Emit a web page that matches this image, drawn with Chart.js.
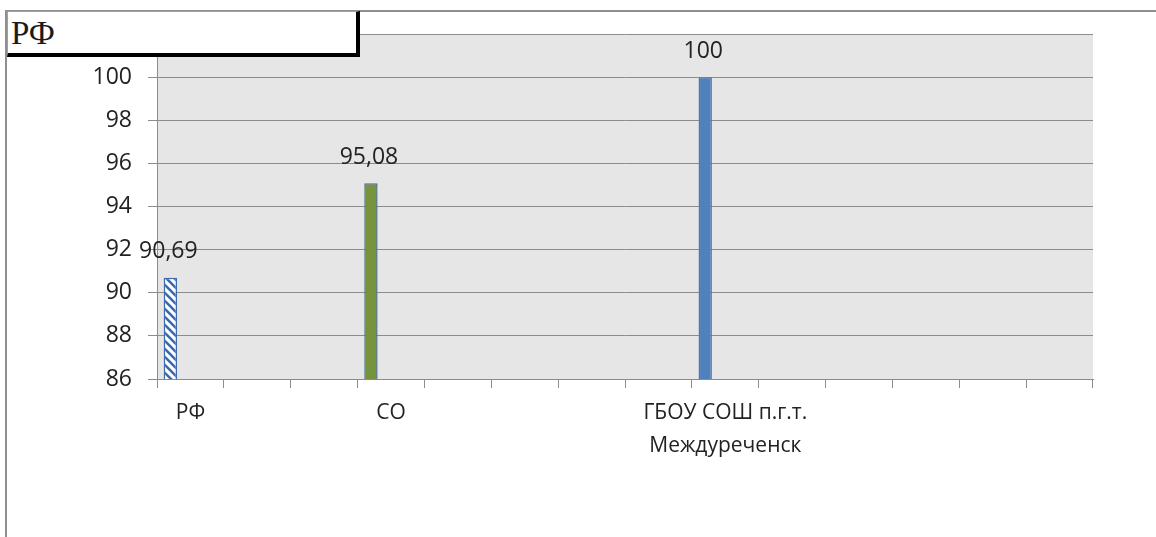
<!DOCTYPE html>
<html lang="ru">
<head>
    <meta charset="UTF-8">
    <title>РФ</title>
    <style>
        body {
            margin: 0;
            padding: 0;
            background: #fff;
            font-family: "Open Sans", sans-serif;
        }
        #wrap {
            position: relative;
            width: 1156px;
            height: 537px;
            overflow: hidden;
        }
        #frame {
            position: absolute;
            left: 5px;
            top: 10px;
            width: 1200px;
            height: 600px;
            border-top: 2px solid #8f8f8f;
            border-left: 2px solid #8f8f8f;
        }
        #titleBox {
            position: absolute;
            left: 7px;
            top: 11px;
            width: 345px;
            height: 41px;
            background: #fff;
            border-top: 1px solid #a0a0a0;
            border-left: 1px solid #a0a0a0;
            border-right: 4px solid #000;
            border-bottom: 4px solid #000;
            font-family: "Liberation Serif", serif;
            font-size: 33px;
            line-height: 42px;
            color: #1a1a1a;
            padding-left: 3px;
            box-sizing: content-box;
            z-index: 2;
        }
        canvas {
            position: absolute;
            left: 0;
            top: 0;
        }
    </style>
</head>
<body>
<div id="wrap">
    <div id="frame"></div>
    <canvas id="chart" width="1156" height="537"></canvas>
    <div id="titleBox">РФ</div>
</div>

<script src="https://cdn.jsdelivr.net/npm/chart.js"></script>
<script>
    // categories (only some of them are named in the original)
    const categories = ['РФ', '', '', 'СО', '', '', '', '', ['ГБОУ СОШ п.г.т.', 'Междуреченск'], '', '', '', '', ''];
    const values = [90.69, null, null, 95.08, null, null, null, null, 100, null, null, null, null, null];
    const emptySeries = [null, null, null, null, null, null, null, null, null, null, null, null, null, null];
    const yTicks = [86, 88, 90, 92, 94, 96, 98, 100];

    // striped fill for the first bar
    function makeHatch() {
        const c = document.createElement('canvas');
        c.width = 8;
        c.height = 8;
        const g = c.getContext('2d');
        g.fillStyle = '#fff';
        g.fillRect(0, 0, 8, 8);
        g.strokeStyle = '#3b6aae';
        g.lineWidth = 2.6;
        g.beginPath();
        g.moveTo(-2, -2); g.lineTo(10, 10);
        g.moveTo(-6, 2); g.lineTo(6, 14);
        g.moveTo(2, -6); g.lineTo(14, 6);
        g.stroke();
        return g.createPattern(c, 'repeat');
    }

    const ctx = document.getElementById('chart').getContext('2d');
    const hatch = makeHatch();
    const barColors = [hatch, null, null, '#77933c', null, null, null, null, '#4f81bd'];
    const barBorders = ['#3b6aae', null, null, '#4d6f8c', null, null, null, null, '#4a7ab4'];

    // plot background
    const plotBg = {
        id: 'plotBg',
        beforeDraw(chart) {
            const a = chart.chartArea;
            const c = chart.ctx;
            c.save();
            c.fillStyle = '#e6e6e6';
            c.fillRect(a.left, a.top, a.right - a.left, a.bottom - a.top);
            c.restore();
        }
    };

    // value labels above bars
    const valueLabels = {
        id: 'valueLabels',
        afterDatasetsDraw(chart) {
            const meta = chart.getDatasetMeta(0);
            const c = chart.ctx;
            c.save();
            c.font = '23px "Open Sans"';
            c.fillStyle = '#222';
            c.textAlign = 'center';
            c.textBaseline = 'middle';
            meta.data.forEach((bar, i) => {
                const v = values[i];
                if (v === null) return;
                c.fillText(String(v).replace('.', ','), bar.x - 2, bar.y - 26);
            });
            c.restore();
        }
    };

    new Chart(ctx, {
        type: 'bar',
        data: {
            labels: categories,
            datasets: [
                {
                    data: values,
                    backgroundColor: barColors,
                    borderColor: barBorders,
                    borderWidth: 1.5
                },
                { data: emptySeries },
                { data: emptySeries },
                { data: emptySeries }
            ]
        },
        options: {
            responsive: false,
            animation: false,
            events: [],
            layout: {
                padding: { left: 0, top: 34, right: 63, bottom: 58 }
            },
            datasets: {
                bar: {
                    categoryPercentage: 0.8,
                    barPercentage: 1
                }
            },
            plugins: {
                legend: { display: false },
                tooltip: { enabled: false },
                title: { display: false }
            },
            scales: {
                x: {
                    afterFit: s => { s.height = 100; },
                    grid: {
                        offset: true,
                        drawOnChartArea: false,
                        drawTicks: true,
                        tickLength: 9,
                        color: '#8c8c8c'
                    },
                    border: { color: '#8c8c8c', width: 1 },
                    ticks: {
                        autoSkip: false,
                        maxRotation: 0,
                        padding: 8,
                        color: '#222',
                        font: { family: '"Open Sans"', size: 21, lineHeight: 1.6 }
                    }
                },
                y: {
                    min: 86,
                    max: 102,
                    afterFit: s => { s.width = 157; },
                    afterBuildTicks: s => {
                        s.ticks = yTicks.concat([102]).map(v => ({ value: v }));
                    },
                    grid: {
                        color: '#8c8c8c',
                        tickLength: 9
                    },
                    border: { color: '#8c8c8c', width: 1 },
                    ticks: {
                        padding: 16,
                        color: '#222',
                        font: { family: '"Open Sans"', size: 23 },
                        callback: v => (yTicks.includes(v) ? String(v) : '')
                    }
                }
            }
        },
        plugins: [plotBg, valueLabels]
    });
</script>
</body>
</html>
